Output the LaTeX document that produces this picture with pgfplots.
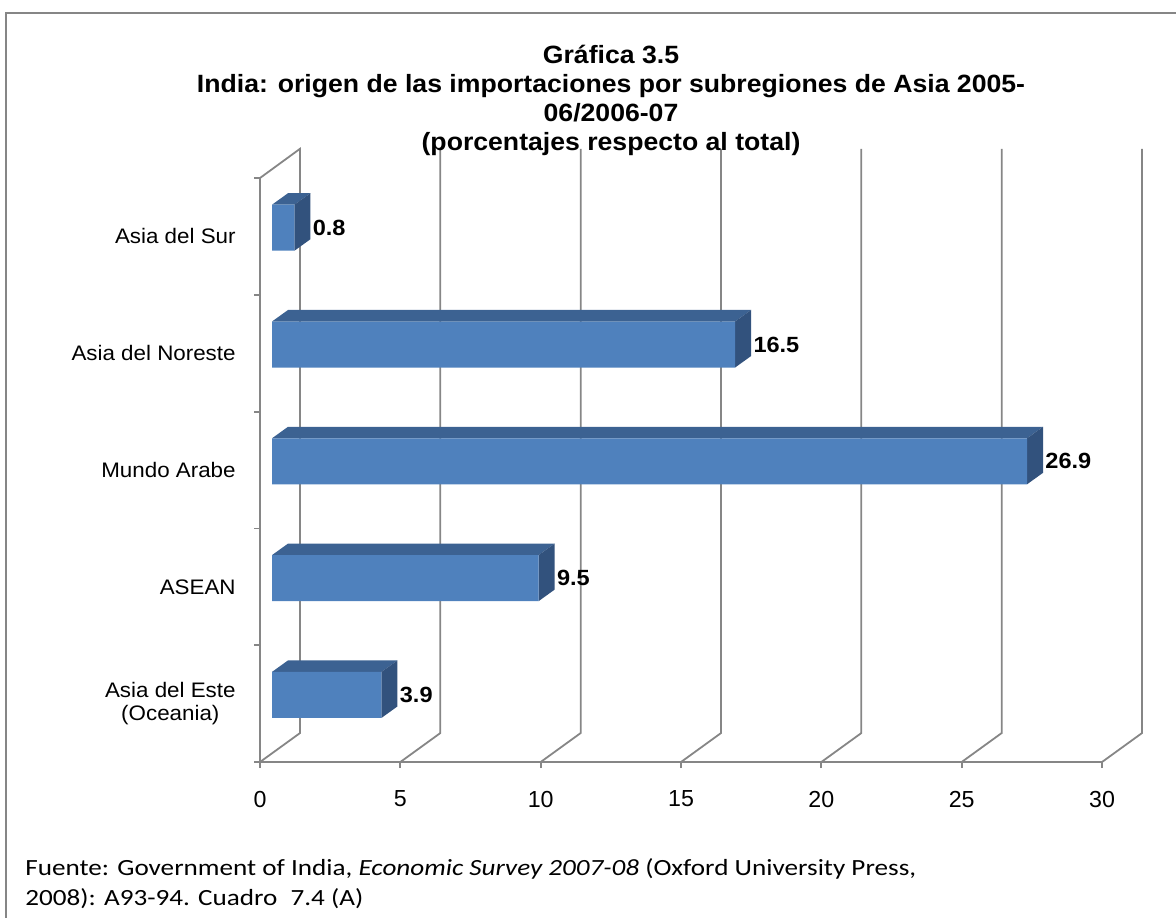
\documentclass[border=0pt]{standalone}
\usepackage{fontspec}
\setmainfont{Liberation Sans}
\newfontfamily\titlefont{Liberation Sans}[FakeStretch=1.065]
\newfontfamily\catfont{Liberation Sans}[FakeStretch=1.065]
\newfontfamily\tickfont{Liberation Sans}[FakeStretch=1.0]
\newfontfamily\numfont{Liberation Sans}[FakeStretch=1.07]
\newfontfamily\notefont{Carlito}[FakeStretch=1.17]
\usepackage{pgfplots}
\usepackage{pgfplotstable}
\pgfplotsset{compat=1.18}
\definecolor{barfront}{RGB}{79,129,189}
\definecolor{bartop}{RGB}{60,98,146}
\definecolor{barside}{RGB}{50,82,125}
\definecolor{gridc}{RGB}{134,134,134}

\pgfplotstableread{
idx value
0 3.9
1 9.5
2 26.9
3 16.5
4 0.8
}\datatable

\begin{document}
\begin{tikzpicture}
\useasboundingbox (0,0) rectangle (588pt,-458.5pt);
\draw[gridc, line width=1.2pt] (3pt,-6.5pt) rectangle (620pt,-480pt);

% frame axis: floor, walls, ticks, labels
\begin{axis}[
  at={(130pt,-381pt)}, anchor=south west,
  x=14.0333pt, y=58.4pt,
  xmin=0, xmax=30, ymin=0, ymax=5,
  enlargelimits=false, clip=false,
  axis lines=left,
  axis line style={-, gridc, line width=0.9pt},
  tick align=outside,
  major tick length=3pt,
  tick style={gridc, line width=0.9pt},
  xtick={0,5,...,30},
  ytick={0,...,5},
  y tick label as interval,
  yticklabels={{Asia del Este\\(Oceania)},ASEAN,Mundo Arabe,Asia del Noreste,Asia del Sur},
  yticklabel style={font=\catfont\fontsize{10.5}{11.8}\selectfont, align=center, inner sep=0pt, xshift=-9pt},
  xticklabel style={font=\tickfont\fontsize{11.6}{13}\selectfont, inner sep=0pt, yshift=-11.3pt},
  /pgf/number format/assume math mode=true,
  no markers,
]
\addplot[gridc, line width=0.9pt, forget plot] coordinates {(0,5) (1.425,5.25) (1.425,0.248) (0,0)};
\addplot[gridc, line width=0.9pt, forget plot] coordinates {(5,0) (6.425,0.248) (6.425,5.25)};
\addplot[gridc, line width=0.9pt, forget plot] coordinates {(10,0) (11.425,0.248) (11.425,5.25)};
\addplot[gridc, line width=0.9pt, forget plot] coordinates {(15,0) (16.425,0.248) (16.425,5.25)};
\addplot[gridc, line width=0.9pt, forget plot] coordinates {(20,0) (21.425,0.248) (21.425,5.25)};
\addplot[gridc, line width=0.9pt, forget plot] coordinates {(25,0) (26.425,0.248) (26.425,5.25)};
\addplot[gridc, line width=0.9pt, forget plot] coordinates {(30,0) (31.425,0.248) (31.425,5.25)};
\end{axis}

% bar axis, set in the plane of the bars' front faces
\begin{axis}[
  at={(136pt,-376.65pt)}, anchor=south west,
  x=14.0333pt, y=58.4pt,
  xmin=0, xmax=30, ymin=0, ymax=5,
  enlargelimits=false, clip=false,
  axis lines=none,
]
\pgfplotsinvokeforeach{0,...,4}{
  \pgfplotstablegetelem{#1}{value}\of\datatable
  \pgfmathsetmacro\vf{\pgfplotsretval}
  \pgfmathsetmacro\vb{\pgfplotsretval+0.57}
  \pgfmathsetmacro\ya{#1+0.303}
  \pgfmathsetmacro\yb{#1+0.697}
  \pgfmathsetmacro\yc{#1+0.4015}
  \pgfmathsetmacro\yd{#1+0.7955}
  \edef\temp{\noexpand\addplot[fill=bartop, draw=none, mark=none, forget plot] coordinates {(0,\yb) (\vf,\yb) (\vb,\yd) (0.57,\yd)};
    \noexpand\addplot[fill=barside, draw=none, mark=none, forget plot] coordinates {(\vf,\ya) (\vf,\yb) (\vb,\yd) (\vb,\yc)};}
  \temp
}
\addplot[xbar, bar width=0.394, fill=barfront, draw=none,
  nodes near coords, point meta=explicit symbolic,
  every node near coord/.append style={font=\numfont\bfseries\fontsize{11}{13}\selectfont, anchor=west, inner sep=0pt, xshift=9pt, black}]
  table[x=value, y expr=\thisrow{idx}+0.5, meta=value] {\datatable};
\end{axis}

\begin{scope}[every node/.style={font=\titlefont\bfseries\fontsize{12.5}{14}\selectfont, anchor=base, inner sep=0pt}]
\node at (305.5pt,-31.5pt) {Gráfica 3.5};
\node at (305.5pt,-46pt) {India: origen de las importaciones por subregiones de Asia 2005-};
\node at (305.5pt,-60.5pt) {06/2006-07};
\node at (305.5pt,-75pt) {(porcentajes respecto al total)};
\end{scope}

\begin{scope}[every node/.style={font=\notefont\fontsize{11.6}{13}\selectfont, anchor=base west, inner sep=0pt}]
\node at (12.5pt,-437.5pt) {Fuente: Government of India, \textit{Economic Survey 2007-08} (Oxford University Press,};
\node at (12.5pt,-452.5pt) {2008): A93-94. Cuadro\hspace{0.3em} 7.4 (A)};
\end{scope}
\end{tikzpicture}
\end{document}
